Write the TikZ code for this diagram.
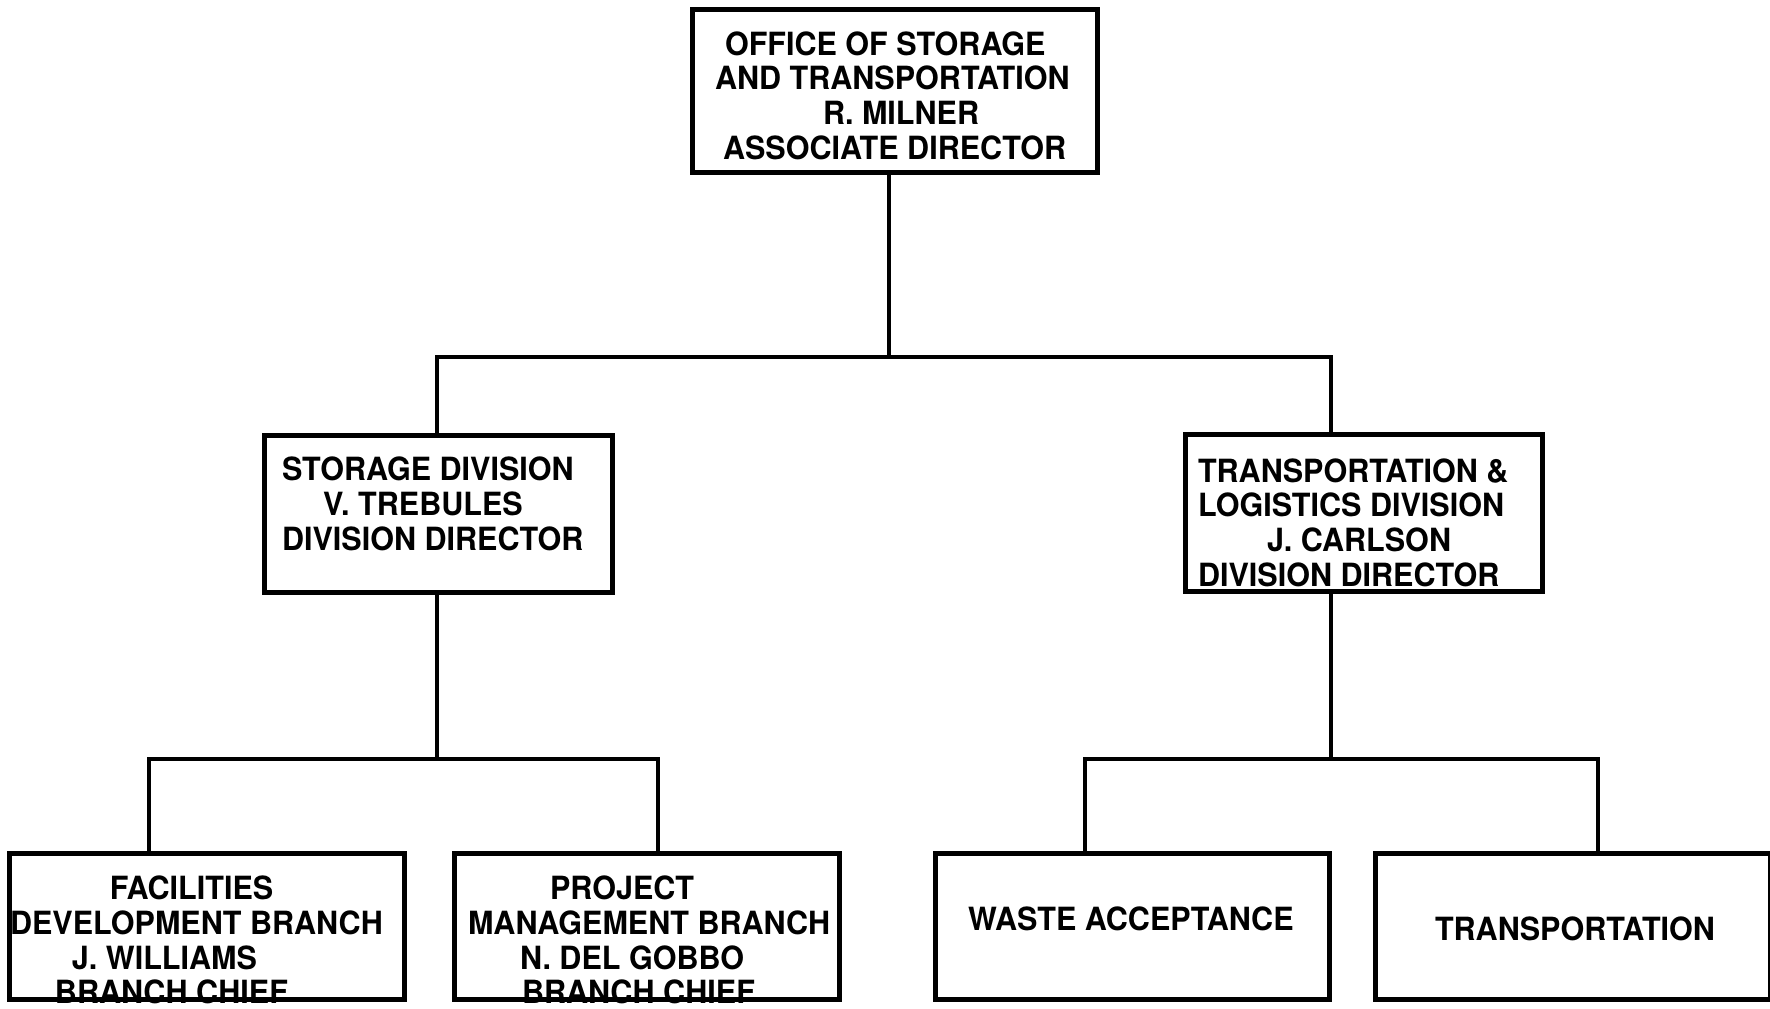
\documentclass[tikz,border=0pt]{standalone}
\usepackage{fontspec}
\setmainfont{TeX Gyre Heros}[FakeStretch=0.955]
\usepackage{tikz}
\usetikzlibrary{positioning}

\begin{document}
\begin{tikzpicture}
			[x=0.1mm, y=-0.1mm, inner sep=0pt, outer sep=0pt,
			unit/.style		= {draw, rectangle, line width=0.5mm, inner sep=0pt, outer sep=0pt},
			office/.style	= {unit, minimum width=40.5mm, minimum height=16.3mm},
			division/.style	= {unit, minimum height=15.7mm},
			branch/.style	= {unit, minimum width=39.4mm, minimum height=14.6mm},
			caption/.style	= {anchor=west, align=left, font=\fontsize{9.1}{9.87}\selectfont\bfseries},
			link/.style		= {line width=0.4mm, line join=miter}]

			\useasboundingbox (0,0) rectangle (1770,1008);

			\node [office]						at (894.5,90.5)	(ost)	{};
			\node [division, minimum width=34.8mm]	at (438,513.5)	(sto)	{};
			\node [division, minimum width=35.7mm]	at (1363.5,512.5)	(tld)	{};
			\node [branch, minimum width=39.5mm]	at (206.5,926)	(fdb)	{};
			\node [branch, minimum width=38.5mm]	at (646.5,926)	(pmb)	{};
			\node [branch]						at (1132,926)	(wac)	{};
			\node [branch, minimum width=39.5mm]	at (1572.5,926)	(trn)	{};

			\node [caption]	at (715,95.5)	(ostT)	{\hspace*{1mm}OFFICE OF STORAGE\\AND TRANSPORTATION\\\hspace*{10.8mm}R. MILNER\\\hspace*{0.8mm}ASSOCIATE DIRECTOR};
			\node [caption]	at (282,504)	(stoT)	{STORAGE DIVISION\\\hspace*{4.1mm}V. TREBULES\\DIVISION DIRECTOR};
			\node [caption]	at (1198,522.5)	(tldT)	{TRANSPORTATION \&\\LOGISTICS DIVISION\\\hspace*{6.9mm}J. CARLSON\\DIVISION DIRECTOR};
			\node [caption]	at (10,940)		(fdbT)	{\hspace*{10mm}FACILITIES\\DEVELOPMENT BRANCH\\\hspace*{6.2mm}J. WILLIAMS\\\hspace*{4.5mm}BRANCH CHIEF};
			\node [caption]	at (468,940)	(pmbT)	{\hspace*{8.2mm}PROJECT\\MANAGEMENT BRANCH\\\hspace*{5.2mm}N. DEL GOBBO\\\hspace*{5.4mm}BRANCH CHIEF};
			\node [caption]	at (968,919)	(wacT)	{WASTE ACCEPTANCE};
			\node [caption]	at (1435,929)	(trnT)	{TRANSPORTATION};

			\coordinate (b0)  at (889,357);
			\coordinate (b0l) at (437,357);
			\coordinate (b0r) at (1331,357);
			\coordinate (b1l) at (149,759);
			\coordinate (b1r) at (658,759);
			\coordinate (b2l) at (1085,759);
			\coordinate (b2r) at (1598,759);

			\draw [link] (ost.south -| b0) -- (b0);
			\draw [link] (sto.north -| b0l) -- (b0l) -- (b0r) -- (tld.north -| b0r);
			\draw [link] (sto.south -| b0l) -- (b0l |- b1l);
			\draw [link] (tld.south -| b0r) -- (b0r |- b2l);
			\draw [link] (fdb.north -| b1l) -- (b1l) -- (b1r) -- (pmb.north -| b1r);
			\draw [link] (wac.north -| b2l) -- (b2l) -- (b2r) -- (trn.north -| b2r);
\end{tikzpicture}
\end{document}
